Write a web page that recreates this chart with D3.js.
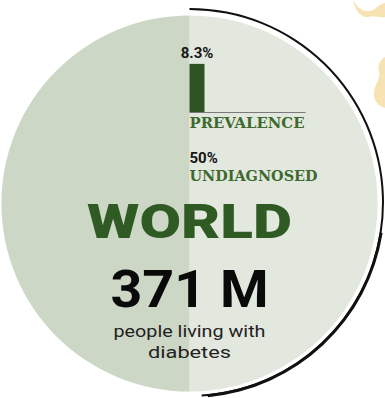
<!DOCTYPE html>
<html lang="en">
<head>
  <meta charset="UTF-8">
  <title>World diabetes</title>
  <style>
    html, body { margin: 0; padding: 0; background: #fff; }
    svg { display: block; }
    .sans { font-family: Roboto, "DejaVu Sans", sans-serif; }
    .slab { font-family: "DejaVu Serif Condensed", "DejaVu Serif", serif; font-weight: bold; font-stretch: condensed; }
  </style>
</head>
<body>
<div id="chart"></div>
<script src="https://d3js.org/d3.v7.min.js"></script>
<script>
  // data
  const region = "WORLD";
  const peopleMillions = 371;
  const prevalence = [8.3];            // % of population
  const shares = [50, 50];             // diagnosed, undiagnosed (%)
  const shareLabels = ["diagnosed", "undiagnosed"];
  const undiagnosed = shares[1];

  const width = 385, height = 398;
  const cx = 189.5, cy = 203.5, r = 188;

  const svg = d3.select("#chart").append("svg")
    .attr("width", width)
    .attr("height", height);

  // decorative map fragments in the corner
  svg.append("path")
    .attr("fill", "#f6e2b2")
    .attr("d", "M353,0 C356,6 362,12 370,11 C376,10 378,4 385,3 L385,17 C379,18 374,15 368,17 C361,18 355,10 353,0 Z");
  svg.append("path")
    .attr("fill", "#f6e2b2")
    .attr("d", "M385,57 C380,60 377,66 379,72 C381,78 375,84 374,92 C373,100 378,106 385,108 Z");

  // two halves of the disc
  const pie = d3.pie().sort(null).value(d => d);
  const arc = d3.arc().innerRadius(0).outerRadius(r);
  const fills = d3.scaleOrdinal().domain(shareLabels).range(["#e3e8df", "#cdd7c6"]);

  const g = svg.append("g").attr("transform", `translate(${cx},${cy})`);
  g.selectAll("path.half")
    .data(pie(shares))
    .enter().append("path")
    .attr("class", "half")
    .attr("d", arc)
    .attr("fill", (d, i) => fills(shareLabels[i]));

  // black outline on the right side, a little heavier towards the bottom
  const ringArc = d3.arc()
    .innerRadius(192.5)
    .outerRadius(194.5)
    .startAngle(0)
    .endAngle(Math.PI * 0.98);
  svg.append("path")
    .attr("transform", `translate(${cx},${cy - 1})`)
    .attr("d", ringArc())
    .attr("fill", "#111");
  const ringArc2 = d3.arc()
    .innerRadius(192.5)
    .outerRadius(195.5)
    .startAngle(Math.PI * 0.55)
    .endAngle(Math.PI * 0.97);
  svg.append("path")
    .attr("transform", `translate(${cx},${cy - 1})`)
    .attr("d", ringArc2())
    .attr("fill", "#111");

  // prevalence mini bar
  const x0 = cx;
  const y = d3.scaleLinear().domain([0, 10]).range([112, 54]);

  svg.selectAll("rect.bar")
    .data(prevalence)
    .enter().append("rect")
    .attr("class", "bar")
    .attr("x", x0)
    .attr("y", d => y(d))
    .attr("width", 15)
    .attr("height", d => y(0) - y(d))
    .attr("fill", "#2f5424");

  svg.append("line")
    .attr("x1", x0).attr("x2", x0 + 116)
    .attr("y1", y(0) + 0.5).attr("y2", y(0) + 0.5)
    .attr("stroke", "#7a7a7a")
    .attr("stroke-width", 1);

  svg.append("text")
    .attr("class", "sans")
    .attr("x", x0 + 7.5).attr("y", y(prevalence[0]) - 6)
    .attr("text-anchor", "middle")
    .style("font-size", "15px").style("font-weight", 700)
    .attr("fill", "#151515")
    .text(d3.format(".1f")(prevalence[0]) + "%");

  svg.append("text")
    .attr("class", "slab")
    .attr("x", x0).attr("y", 128)
    .attr("textLength", 115).attr("lengthAdjust", "spacingAndGlyphs")
    .style("font-size", "15px")
    .attr("fill", "#3e6a2f")
    .text("PREVALENCE");

  svg.append("text")
    .attr("class", "sans")
    .attr("x", x0).attr("y", 163)
    .style("font-size", "15px").style("font-weight", 700)
    .attr("fill", "#151515")
    .text(undiagnosed + "%");

  svg.append("text")
    .attr("class", "slab")
    .attr("x", x0).attr("y", 181)
    .attr("textLength", 128).attr("lengthAdjust", "spacingAndGlyphs")
    .style("font-size", "15px")
    .attr("fill", "#3e6a2f")
    .text("UNDIAGNOSED");

  // headline
  svg.append("text")
    .attr("class", "sans")
    .attr("x", cx).attr("y", 238)
    .attr("text-anchor", "middle")
    .attr("textLength", 205).attr("lengthAdjust", "spacingAndGlyphs")
    .style("font-size", "49px").style("font-weight", 900)
    .attr("fill", "#2f5a24")
    .text(region);

  svg.append("text")
    .attr("class", "sans")
    .attr("x", cx).attr("y", 307)
    .attr("text-anchor", "middle")
    .attr("textLength", 158).attr("lengthAdjust", "spacingAndGlyphs")
    .style("font-size", "52px").style("font-weight", 700)
    .attr("fill", "#0a0a0a")
    .text(peopleMillions + " M");

  svg.append("text")
    .attr("class", "sans")
    .attr("x", cx).attr("y", 337)
    .attr("text-anchor", "middle")
    .attr("textLength", 152).attr("lengthAdjust", "spacingAndGlyphs")
    .style("font-size", "17px")
    .attr("fill", "#222")
    .text("people living with");

  svg.append("text")
    .attr("class", "sans")
    .attr("x", cx).attr("y", 358)
    .attr("text-anchor", "middle")
    .attr("textLength", 83).attr("lengthAdjust", "spacingAndGlyphs")
    .style("font-size", "17px")
    .attr("fill", "#222")
    .text("diabetes");
</script>
</body>
</html>
